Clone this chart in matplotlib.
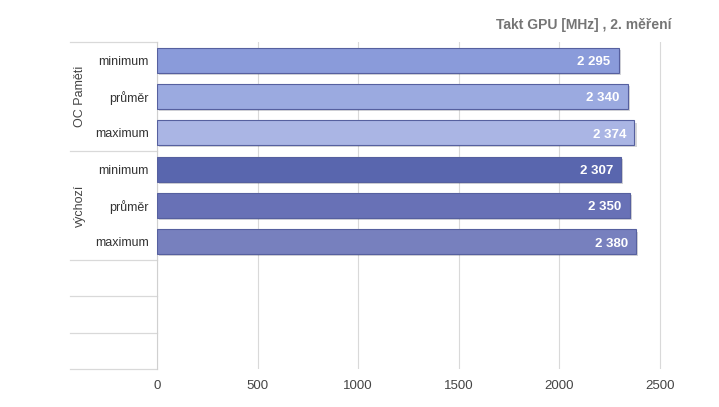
import matplotlib.pyplot as plt
import matplotlib.patheffects as pe
from matplotlib.transforms import blended_transform_factory

plt.rcParams['font.family'] = ['Liberation Sans', 'DejaVu Sans']

# data
skupiny = ['OC Paměti', 'výchozí']
popisky = ['minimum', 'průměr', 'maximum', 'minimum', 'průměr', 'maximum']
hodnoty = [2295, 2340, 2374, 2307, 2350, 2380]
barvy = ['#8a9bda', '#9baae0', '#aab5e4', '#5966ae', '#6871b6', '#7780be']
radku = 9  # 6 barů + 3 prázdné řádky

fig = plt.figure(figsize=(7.19, 4.07), dpi=100)
ax = fig.add_axes([157/719, 1-369/407, (690-157)/719, (369-42)/407])

y = list(range(len(hodnoty)))
bars = ax.barh(y, hodnoty, height=0.68, color=barvy, edgecolor='#56609f', linewidth=0.8, zorder=3)
for b in bars:
    b.set_path_effects([pe.SimplePatchShadow(offset=(1.5, -1.5), alpha=0.2), pe.Normal()])

for yi, v in zip(y, hodnoty):
    txt = f"{v:,}".replace(',', ' ')
    ax.text(v - 40, yi + 0.05, txt, ha='right', va='center', color='white',
            fontsize=9.5, fontweight='bold', zorder=4)

ax.set_ylim(radku - 0.5, -0.5)
ax.set_xlim(0, 2650)
ax.set_xticks([0, 500, 1000, 1500, 2000, 2500])
ax.tick_params(axis='x', length=0, labelsize=9.5, labelcolor='#444444', pad=8)
ax.set_yticks(y)
ax.set_yticklabels(popisky)
ax.tick_params(axis='y', length=0, labelsize=9, labelcolor='#333333', pad=6)
ax.grid(axis='x', color='#d9d9d9', linewidth=0.8, zorder=0)
for s in ['top', 'right', 'bottom']:
    ax.spines[s].set_visible(False)
ax.spines['left'].set_color('#d0d0d0')
ax.spines['left'].set_linewidth(0.8)

# levý panel se skupinami
tr = blended_transform_factory(fig.transFigure, ax.transData)
for yb in [-0.5, 2.5, 5.5, 6.5, 7.5, 8.5]:
    ax.plot([70/719, 157/719], [yb, yb], transform=tr, color='#d9d9d9',
            linewidth=0.9, clip_on=False)
for i, g in enumerate(skupiny):
    ax.text(80/719, i*3 + 1, g, transform=tr, rotation=90, ha='center', va='center',
            fontsize=9, color='#444444')

fig.text(672/719, 1-25/407, 'Takt GPU [MHz] , 2. měření', ha='right', va='center',
         fontsize=10, fontweight='bold', color='#757575')

fig.savefig('out.png', dpi=100)
